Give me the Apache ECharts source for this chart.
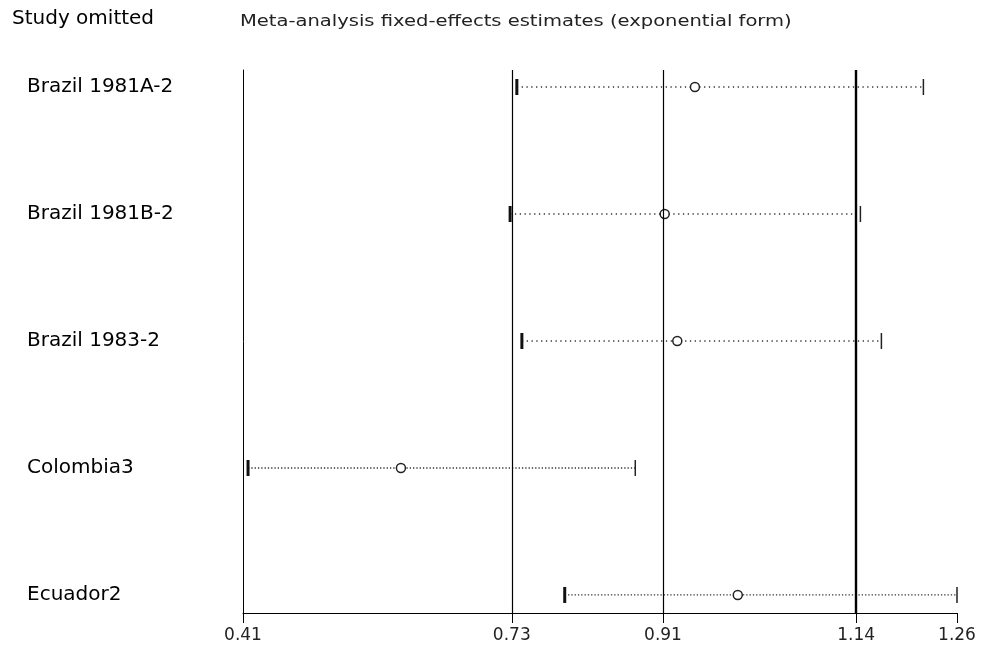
<!DOCTYPE html>
<html>
<head>
<meta charset="utf-8">
<script src="https://cdn.jsdelivr.net/npm/echarts@6/dist/echarts.min.js"></script>
<style>html,body{margin:0;padding:0;background:#fff;}#c{width:982px;height:655px;}</style>
</head>
<body>
<div id="c"></div>
<script>
var studies = ['Brazil 1981A-2', 'Brazil 1981B-2', 'Brazil 1983-2', 'Colombia3', 'Ecuador2'];
var lowerCI = [0.736, 0.728, 0.742, 0.416, 0.793];
var estimate = [0.948, 0.912, 0.927, 0.598, 0.999];
var upperCI = [1.220, 1.145, 1.170, 0.877, 1.260];
var refLines = [0.728, 0.910, 1.137];
var tickValues = [0.41, 0.73, 0.91, 1.14, 1.26];
var xMin = 0.41, xMax = 1.26;
var titleText = 'Meta-analysis fixed-effects estimates (exponential form)';
var leftHeader = 'Study omitted';

var rows = studies.map(function (s, i) { return [lowerCI[i], estimate[i], upperCI[i], i]; });

var chart = echarts.init(document.getElementById('c'), null, {renderer: 'canvas'});
chart.setOption({
  animation: false,
  backgroundColor: '#fff',
  title: [
    {text: leftHeader, left: 12, top: 9, padding: 0,
     textStyle: {fontFamily: 'DejaVu Sans', fontSize: 20, fontWeight: 'normal', color: '#000'}}
  ],
  graphic: [
    {type: 'text', left: 240, top: 14, scaleX: 1.22, originX: 0,
     style: {text: titleText, fontFamily: 'DejaVu Sans', fontSize: 16, fill: '#222'}}
  ],
  grid: {left: 243, right: 25, top: 70, bottom: 42, containLabel: false},
  xAxis: {
    type: 'value', min: xMin, max: xMax, position: 'bottom',
    axisLine: {show: true, onZero: false, lineStyle: {color: '#000', width: 1}},
    axisTick: {show: true, customValues: tickValues, length: 10, lineStyle: {color: '#000', width: 1}},
    axisLabel: {customValues: tickValues, margin: 14, color: '#222', fontFamily: 'DejaVu Sans', fontSize: 17,
      formatter: function (v) { return v.toFixed(2); }},
    splitLine: {show: false}
  },
  yAxis: {
    type: 'value', inverse: true, min: -0.134, max: 4.142,
    axisLine: {show: true, onZero: false, lineStyle: {color: '#000', width: 1}},
    axisTick: {show: false},
    splitLine: {show: false},
    axisLabel: {customValues: [0, 1, 2, 3, 4], align: 'left', margin: 216, color: '#000',
      fontFamily: 'DejaVu Sans', fontSize: 20, padding: [0, 0, 12, 0],
      formatter: function (v) { return studies[Math.round(v)]; }}
  },
  series: [{
    type: 'custom',
    data: rows,
    encode: {x: [0, 1, 2], y: 3},
    renderItem: function (params, api) {
      var lo = api.coord([api.value(0), api.value(3)]);
      var es = api.coord([api.value(1), api.value(3)]);
      var hi = api.coord([api.value(2), api.value(3)]);
      var dense = api.value(3) >= 3;
      return {
        type: 'group',
        children: [
          {type: 'line', shape: {x1: lo[0], y1: lo[1], x2: hi[0], y2: hi[1]},
           style: {stroke: '#333', lineWidth: 1.3, lineDash: dense ? [1.3, 2] : [1.3, 3.5]}},
          {type: 'rect', shape: {x: lo[0] - 1.5, y: lo[1] - 8, width: 3, height: 16},
           style: {fill: '#111'}},
          {type: 'line', shape: {x1: hi[0], y1: hi[1] - 8, x2: hi[0], y2: hi[1] + 8},
           style: {stroke: '#222', lineWidth: 1.5}},
          {type: 'circle', shape: {cx: es[0], cy: es[1], r: 4.5},
           style: {fill: '#fff', stroke: '#222', lineWidth: 1.5}}
        ]
      };
    },
    markLine: {
      silent: true, symbol: 'none', label: {show: false},
      data: refLines.map(function (v, i) {
        return {xAxis: v, lineStyle: {color: '#000', type: 'solid', width: i === 2 ? 2.4 : 1.2}};
      })
    },
    z: 3
  }]
});
</script>
</body>
</html>
